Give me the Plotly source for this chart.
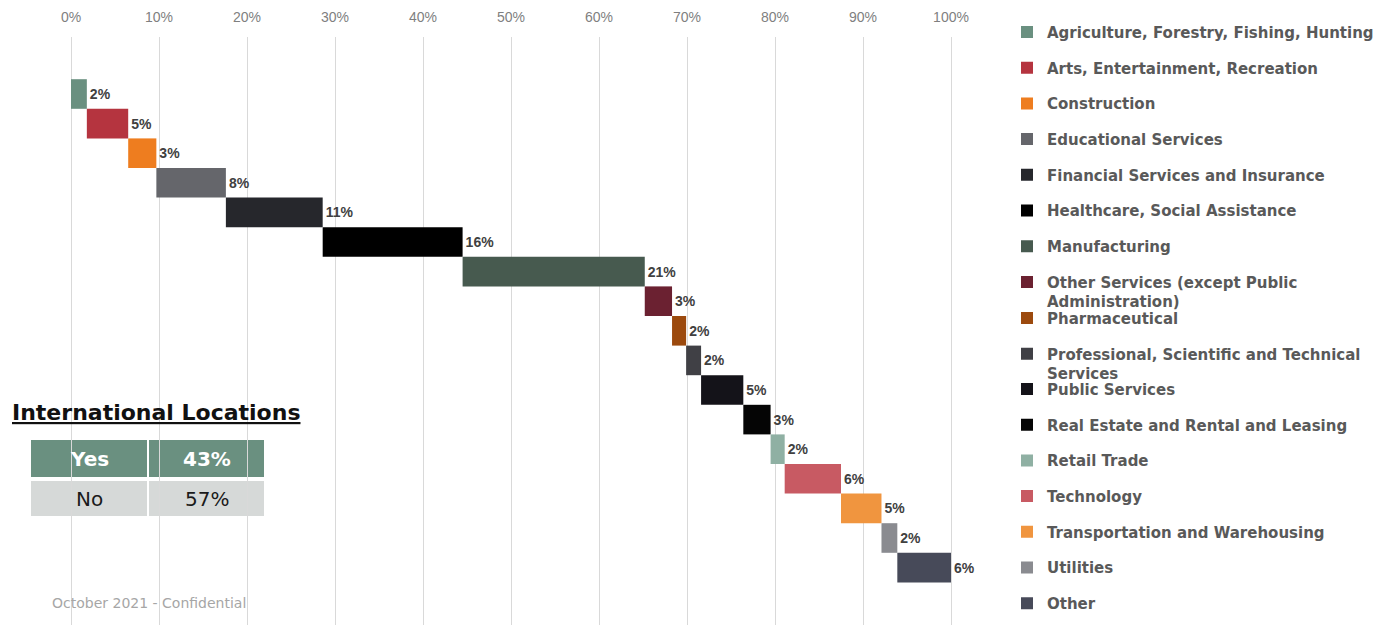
import plotly.graph_objects as go

# ---- data ----
categories = [
    "Agriculture, Forestry, Fishing, Hunting",
    "Arts, Entertainment, Recreation",
    "Construction",
    "Educational Services",
    "Financial Services and Insurance",
    "Healthcare, Social Assistance",
    "Manufacturing",
    "Other Services (except Public<br>Administration)",
    "Pharmaceutical",
    "Professional, Scientific and Technical<br>Services",
    "Public Services",
    "Real Estate and Rental and Leasing",
    "Retail Trade",
    "Technology",
    "Transportation and Warehousing",
    "Utilities",
    "Other",
]
shares = [1.8, 4.7, 3.2, 7.9, 11.0, 15.9, 20.7, 3.1, 1.6, 1.7, 4.8, 3.1, 1.6, 6.4, 4.6, 1.8, 6.1]
colors = [
    "#6a9080", "#b5343f", "#ee7d1f", "#65666b", "#26272c", "#000000",
    "#475a4f", "#6b2131", "#9c4a0e", "#404045", "#141319", "#050505",
    "#8fb0a3", "#c85a63", "#f0953f", "#8a8b90", "#474a59",
]
tick_values = list(range(0, 101, 10))
tick_labels = [f"{v}%" for v in tick_values]

intl_title = "International Locations"
intl_labels = ["Yes", "No"]
intl_values = ["43%", "57%"]
footer = "October 2021 - Confidential"

# ---- layout helpers ----
W, H = 1392, 625
ML, MR, MT, MB = 0, 392, 37, 0
PW, PH = W - ML - MR, H - MT - MB


def px_x(x):
    return (x - ML) / PW


def px_y(y):
    return (H - MB - y) / PH


FONT = "Arial, Liberation Sans, sans-serif"
WIDE = "DejaVu Sans, Arial, sans-serif"

fig = go.Figure()

starts = []
acc = 0.0
for v in shares:
    starts.append(acc)
    acc += v

for i, (cat, v, b, c) in enumerate(zip(categories, shares, starts, colors)):
    leg = "legend" if i < 8 else ("legend2" if i < 10 else "legend3")
    fig.add_trace(go.Bar(
        x=[v], y=[i], base=[b], orientation="h", width=1,
        marker=dict(color=c, line=dict(width=0)),
        name=cat, legendgroup=f"g{i}", legend=leg,
        text=[f"{round(v)}%"], textposition="outside", constraintext="none",
        textfont=dict(family=FONT, size=14, color="#404040", weight="bold"),
        cliponaxis=False, hoverinfo="name+x",
    ))

fig.update_layout(
    width=W, height=H, autosize=False,
    margin=dict(l=ML, r=MR, t=MT, b=MB),
    paper_bgcolor="white", plot_bgcolor="white",
    barmode="overlay", showlegend=True,
    font=dict(family=FONT),
    xaxis=dict(
        side="top", range=[-71 / 8.8, (PW - 71) / 8.8],
        tickvals=tick_values, ticktext=tick_labels,
        tickfont=dict(size=14, color="#7f7f7f", family=FONT),
        showgrid=True, gridcolor="#d9d9d9", gridwidth=1,
        zeroline=False, showline=False, ticks="", ticklabelstandoff=11,
    ),
    yaxis=dict(
        range=[(625 - 94) / 29.6, (37 - 94) / 29.6],
        showticklabels=False, showgrid=False, zeroline=False, ticks="",
    ),
)

leg_common = dict(
    xanchor="left", yanchor="top", x=px_x(1007),
    font=dict(family=WIDE, size=15, color="#595959", weight="bold"),
    tracegroupgap=13.2, traceorder="grouped", valign="top",
    bgcolor="rgba(0,0,0,0)", borderwidth=0,
)
fig.update_layout(
    legend=dict(y=px_y(32 - 16.25), **leg_common),
    legend2=dict(y=px_y(318 - 16.25), **leg_common),
    legend3=dict(y=px_y(389 - 16.25), **leg_common),
)

# ---- International Locations table ----
fig.add_annotation(
    xref="paper", yref="paper", x=px_x(10), y=px_y(412), xanchor="left", yanchor="middle",
    text=f"<u><b>{intl_title}</b></u>", showarrow=False,
    font=dict(family=WIDE, size=22, color="#111111"),
)
row_tops = [440, 481]
row_bots = [477, 516]
col_l = [31, 149]
col_r = [147, 264]
fills = ["#6a9080", "#d6d9d8"]
for r, (lab, val) in enumerate(zip(intl_labels, intl_values)):
    for cidx, txt in enumerate([lab, val]):
        fig.add_shape(
            type="rect", xref="paper", yref="paper", layer="below",
            x0=px_x(col_l[cidx]), x1=px_x(col_r[cidx]),
            y0=px_y(row_bots[r]), y1=px_y(row_tops[r]),
            fillcolor=fills[r], line=dict(width=0),
        )
        fig.add_annotation(
            xref="paper", yref="paper",
            x=px_x((col_l[cidx] + col_r[cidx]) / 2), y=px_y((row_tops[r] + row_bots[r]) / 2),
            xanchor="center", yanchor="middle", showarrow=False,
            text=f"<b>{txt}</b>" if r == 0 else txt,
            font=dict(family=WIDE, size=20, color="white" if r == 0 else "#1a1a1a"),
        )

fig.add_annotation(
    xref="paper", yref="paper", x=px_x(50), y=px_y(603), xanchor="left", yanchor="middle",
    text=footer, showarrow=False, font=dict(family=WIDE, size=14, color="#a6a6a6"),
)

fig.write_html("out.html")
